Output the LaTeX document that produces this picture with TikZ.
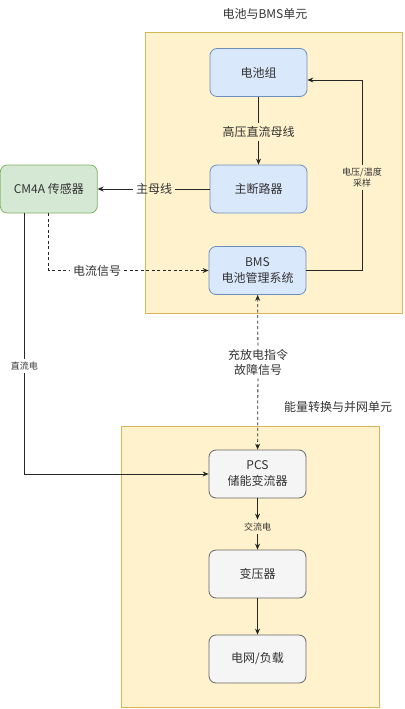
\documentclass[tikz,border=0pt]{standalone}
\usepackage{fontspec}
\setmainfont{Noto Sans CJK SC}
\usetikzlibrary{arrows.meta}
\definecolor{contfill}{HTML}{FFF2CC}
\definecolor{contdraw}{HTML}{D6B656}
\definecolor{bluefill}{HTML}{DAE8FC}
\definecolor{bluedraw}{HTML}{6C8EBF}
\definecolor{greenfill}{HTML}{D5E8D4}
\definecolor{greendraw}{HTML}{82B366}
\definecolor{grayfill}{HTML}{F5F5F5}
\definecolor{graydraw}{HTML}{666666}
\definecolor{txt}{HTML}{333333}
\tikzset{
  box/.style={draw, rounded corners=7pt, minimum width=97pt, minimum height=48pt,
    align=center, font=\fontsize{12}{16}\selectfont, line width=0.8pt, inner sep=2pt},
  bluebox/.style={box, fill=bluefill, draw=bluedraw, text=txt},
  greenbox/.style={box, fill=greenfill, draw=greendraw, text=txt},
  graybox/.style={box, fill=grayfill, draw=graydraw, text=txt},
  container/.style={fill=contfill, draw=contdraw, line width=0.8pt},
  edge/.style={draw=black!85, line width=0.8pt},
  arr/.style={edge, -{Stealth[length=6pt,width=5pt]}},
  dsh/.style={dash pattern=on 3pt off 2.5pt},
  lbl/.style={font=\fontsize{12}{15}\selectfont, text=txt, inner sep=3pt, align=center},
  slbl/.style={font=\fontsize{9}{11}\selectfont, text=txt, inner sep=3pt, align=center},
  ttl/.style={font=\fontsize{12}{15}\selectfont, text=txt, inner sep=0pt}
}
\begin{document}
\begin{tikzpicture}[x=1pt,y=-1pt]
\useasboundingbox (0,0) rectangle (404,709);
% containers
\draw[container] (145,32) rectangle (402,313);
\draw[container] (121,426) rectangle (379,707);
\node[ttl] (t1) at (265,14) {电池与BMS单元};
\node[ttl] (t2) at (338,407) {能量转换与并网单元};
% nodes
\node[bluebox] (bat) at (258.5,72.5) {电池组};
\node[bluebox] (brk) at (258.5,189) {主断路器};
\node[bluebox] (bms) at (257.5,270.5) {BMS\\电池管理系统};
\node[greenbox] (cm) at (48.8,189) {CM4A 传感器};
\node[graybox] (pcs) at (257.5,474) {PCS\\储能变流器};
\node[graybox] (tr) at (257.5,574) {变压器};
\node[graybox] (grid) at (257.5,659) {电网/负载};
% labels
\node[lbl] (hv) at (258.5,132) {高压直流母线};
\node[lbl] (mb) at (154,189) {主母线};
\node[slbl] (vt) at (362,177.5) {电压/温度\\采样};
\node[lbl] (cs) at (97,270.5) {电流信号};
\node[lbl] (cmd) at (258,362) {充放电指令\\故障信号};
\node[slbl] (dc) at (24.3,366) {直流电};
\node[slbl] (ac) at (257.5,527) {交流电};
% connectors
\draw[edge] (bat) -- (hv);
\draw[arr] (hv) -- (brk);
\draw[edge] (brk) -- (mb);
\draw[arr] (mb) -- (cm);
\draw[edge] (bms.east) -| (vt.south);
\draw[arr] (vt.north) |- ([yshift=-7.5pt]bat.east);
\draw[edge,dsh] (cm.south) |- (cs.west);
\draw[arr,dsh] (cs.east) -- (bms.west);
\draw[arr,dsh] (cmd) -- (bms);
\draw[arr,dsh] (cmd) -- (pcs);
\draw[edge] ([xshift=-24.5pt]cm.south) -- (dc.north);
\draw[arr] (dc.south) |- (pcs.west);
\draw[arr] (pcs) -- (ac);
\draw[arr] (ac) -- (tr);
\draw[arr] (tr) -- (grid);
\end{tikzpicture}
\end{document}
